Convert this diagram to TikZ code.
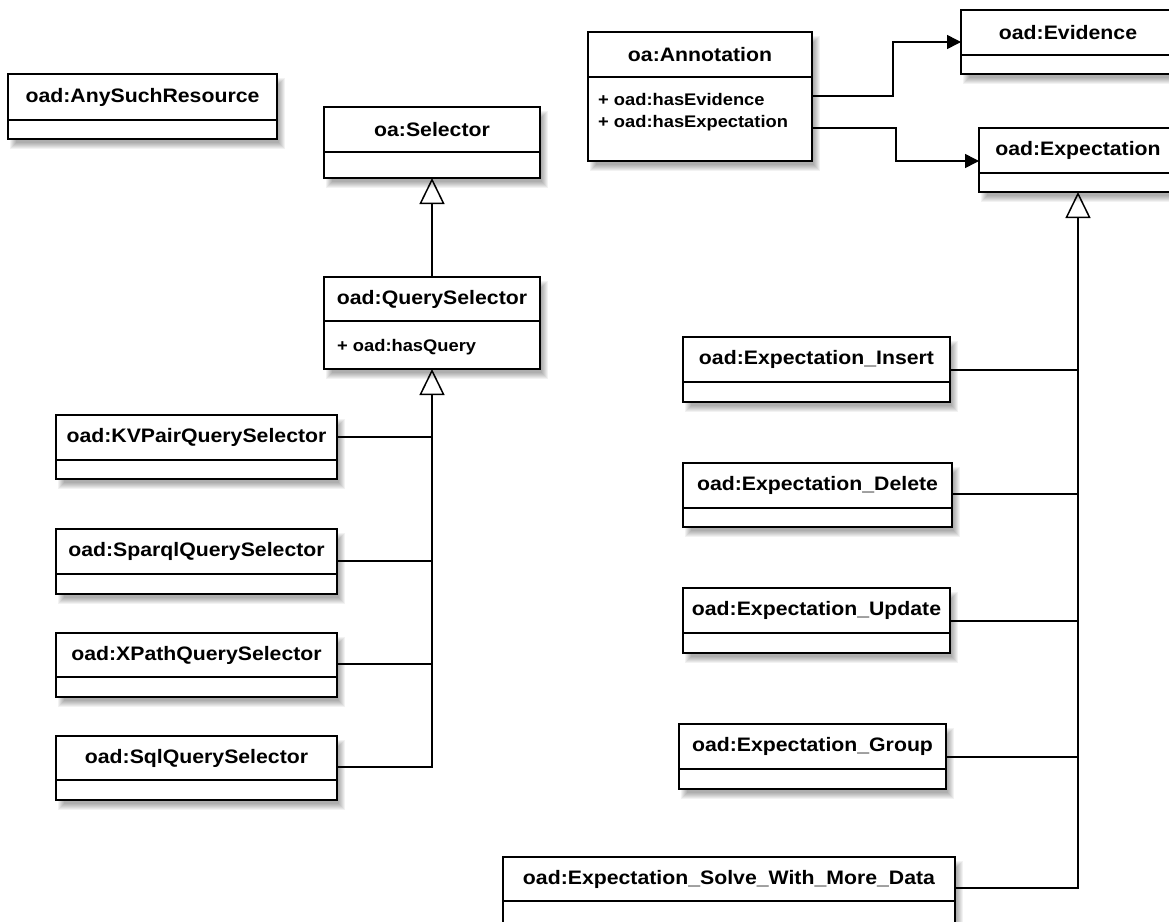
\documentclass[tikz,border=0pt]{standalone}
\usepackage{fontspec}
\setmainfont{Liberation Sans}[FakeStretch=1.09]
\usetikzlibrary{arrows.meta,calc}

\tikzset{
  x=1pt, y=-1pt,
  classpart/.style={draw, line width=1.6pt, fill=white, inner sep=0pt, outer sep=0pt,
    anchor=north west},
  head/.style={classpart, font=\bfseries\fontsize{19.5}{22}\selectfont},
  attr/.style={inner sep=0pt, align=left, font=\bfseries\fontsize{16.8}{22}\selectfont},
  conn/.style={line width=1.5pt},
  gen/.style={conn, -{Triangle[open, length=26pt, width=25pt, line width=1.5pt]}},
  assoc/.style={conn, -{Triangle[length=14pt, width=14pt]}},
}

% class box: name, left, top, right, divider, bottom, title
\newcommand\umlclass[7]{%
  \foreach \d in {0,...,6}{%
    \fill[black, opacity=0.05] ({#2+2+\d},{#3+4+\d}) rectangle ({#4+8-\d},{#6+10-\d});}
  \node[head, minimum width={(#4)-(#2)}, minimum height={(#5)-(#3)}] (#1) at (#2,#3) {#7};
  \node[classpart, minimum width={(#4)-(#2)}, minimum height={(#6)-(#5)}] (#1b) at (#2,#5) {};
}

\begin{document}
\begin{tikzpicture}
\useasboundingbox (0,0) rectangle (1169,921);
\fill[white] (0,0) rectangle (1169,921);

% classes
\umlclass{any}{8}{74}{277}{120}{139}{oad:AnySuchResource}
\umlclass{sel}{324}{107}{540}{152}{178}{oa:Selector}
\umlclass{qsel}{324}{277}{540}{321}{369}{oad:QuerySelector}
\umlclass{kvsel}{56}{415}{337}{460}{479}{oad:KVPairQuerySelector}
\umlclass{spsel}{56}{529}{337}{574}{594}{oad:SparqlQuerySelector}
\umlclass{xpsel}{56}{633}{337}{677}{697}{oad:XPathQuerySelector}
\umlclass{sqsel}{56}{736}{337}{780}{800}{oad:SqlQuerySelector}

\umlclass{ann}{588}{32}{812}{77}{161}{oa:Annotation}
\umlclass{evid}{961}{10}{1175}{55}{74}{oad:Evidence}
\umlclass{exp}{979}{128}{1177}{173}{192}{oad:Expectation}
\umlclass{ins}{683}{337}{950}{382}{402}{oad:Expectation\_Insert}
\umlclass{del}{683}{463}{952}{508}{527}{oad:Expectation\_Delete}
\umlclass{upd}{683}{588}{950}{633}{653}{oad:Expectation\_Update}
\umlclass{grp}{679}{724}{946}{769}{789}{oad:Expectation\_Group}
\umlclass{solve}{503}{857}{955}{901}{924}{oad:Expectation\_Solve\_With\_More\_Data}

% attributes
\node[attr, anchor=west] (annattr) at (598,112) {+ oad:hasEvidence\\+ oad:hasExpectation};
\node[attr, anchor=west] (qselattr) at (337,347) {+ oad:hasQuery};

% selector hierarchy
\draw[gen] (qsel.north) -- (selb.south);
\coordinate (ltrunk) at (qselb.south |- 0,767);
\coordinate (jkv) at (ltrunk |- 0,437);
\coordinate (jsp) at (ltrunk |- 0,561);
\coordinate (jxp) at (ltrunk |- 0,664);
\draw[gen] (sqsel.east |- ltrunk) -- (ltrunk) -- (qselb.south);
\draw[conn] (kvsel.east |- jkv) -- (jkv);
\draw[conn] (spsel.east |- jsp) -- (jsp);
\draw[conn] (xpsel.east |- jxp) -- (jxp);

% expectation hierarchy
\coordinate (rtrunk) at (expb.south |- 0,888);
\coordinate (jins) at (rtrunk |- 0,370);
\coordinate (jdel) at (rtrunk |- 0,494);
\coordinate (jupd) at (rtrunk |- 0,621);
\coordinate (jgrp) at (rtrunk |- 0,757);
\draw[gen] (solve.east |- rtrunk) -- (rtrunk) -- (expb.south);
\draw[conn] (ins.east |- jins) -- (jins);
\draw[conn] (del.east |- jdel) -- (jdel);
\draw[conn] (upd.east |- jupd) -- (jupd);
\draw[conn] (grp.east |- jgrp) -- (jgrp);

% associations
\draw[assoc] (annb.east |- 0,96) -- ++(81,0) |- (evid.west |- 0,42);
\draw[assoc] (annb.east |- 0,128) -- ++(84,0) |- (exp.west |- 0,161);
\end{tikzpicture}
\end{document}
